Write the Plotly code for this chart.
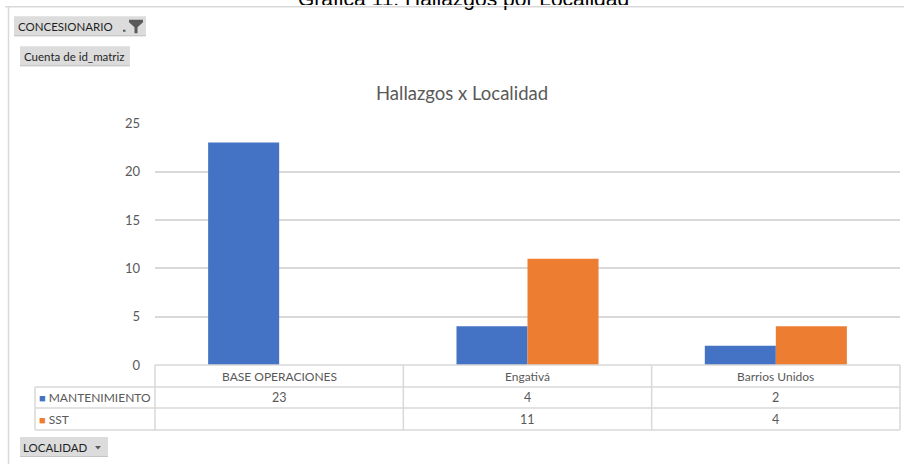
import plotly.graph_objects as go

W, H = 904, 464      # target picture size
HF = 472             # figure height (compensates the 8px top offset / vertical rescale seen in the photo)

categories = ["BASE OPERACIONES", "Engativá", "Barrios Unidos"]
series_names = ["MANTENIMIENTO", "SST"]
mantenimiento = [23, 4, 2]
sst = [None, 11, 4]
series_values = [mantenimiento, sst]
colors = ["#4472C4", "#ED7D31"]
y_ticks = [0, 5, 10, 15, 20, 25]

chart_title = "Hallazgos x Localidad"
page_title = "Gráfica 11. Hallazgos por Localidad"

FONT = "Lato"
GREY = "#595959"
LINE = "#d9d9d9"


def px(x):
    return x / W


def py(y):
    yc = y * (H + 16) / H - 8
    return 1 - yc / HF


fig = go.Figure()
for name, vals, col in zip(series_names, series_values, colors):
    fig.add_trace(go.Bar(x=categories, y=vals, name=name, marker=dict(color=col, line=dict(width=0)),
                         showlegend=False, hoverinfo="x+y+name"))

shapes = []
annotations = []

# outer frame lines
shapes.append(dict(type="line", xref="paper", yref="paper", x0=px(5), x1=px(904), y0=py(6.5), y1=py(6.5),
                   line=dict(color=LINE, width=1.5)))
shapes.append(dict(type="line", xref="paper", yref="paper", x0=px(8.5), x1=px(8.5), y0=py(6.5), y1=py(470),
                   line=dict(color=LINE, width=1.5)))

# data table lines
for yy, x0 in [(365, 155), (387, 35), (408, 35), (430, 35)]:
    shapes.append(dict(type="line", xref="paper", yref="paper", x0=px(x0), x1=px(900), y0=py(yy), y1=py(yy),
                       line=dict(color=LINE, width=1.5)))
shapes.append(dict(type="line", xref="paper", yref="paper", x0=px(35), x1=px(35), y0=py(387), y1=py(430),
                   line=dict(color=LINE, width=1.5)))
for xx in [155, 900]:
    shapes.append(dict(type="line", xref="paper", yref="paper", x0=px(xx), x1=px(xx), y0=py(365), y1=py(430),
                       line=dict(color=LINE, width=1.5)))
for i in range(len(categories) - 1):
    shapes.append(dict(type="line", xref="x", yref="paper", x0=i + 0.5, x1=i + 0.5, y0=py(365), y1=py(430),
                       line=dict(color=LINE, width=1.5)))

# table header + values
for i, cat in enumerate(categories):
    annotations.append(dict(x=i, y=py(376), xref="x", yref="paper", text=cat, showarrow=False,
                            font=dict(family=FONT, size=12, color=GREY), xanchor="center", yanchor="middle"))
for r, (name, vals, col) in enumerate(zip(series_names, series_values, colors)):
    yy = 397.5 + r * 21.5
    annotations.append(dict(x=px(37), y=py(yy), xref="paper", yref="paper",
                            text=f"<span style='color:{col};font-size:11px'>■</span> {name}", showarrow=False,
                            font=dict(family=FONT, size=12, color=GREY), xanchor="left", yanchor="middle"))
    for i, v in enumerate(vals):
        annotations.append(dict(x=i, y=py(yy), xref="x", yref="paper", text="" if v is None else str(v),
                                showarrow=False, font=dict(family=FONT, size=12.5, color=GREY),
                                xanchor="center", yanchor="middle"))

# titles
annotations.append(dict(x=px(462), y=py(93), xref="paper", yref="paper", text=chart_title, showarrow=False,
                        font=dict(family=FONT, size=18.5, color=GREY), xanchor="center", yanchor="middle"))
annotations.append(dict(x=px(463), y=py(-1.5), xref="paper", yref="paper", text=page_title, showarrow=False,
                        font=dict(family="Liberation Sans, Arial", size=21, color="#000000"),
                        xanchor="center", yanchor="middle"))
# white strip: the page title is cut just below its baseline in the reference
annotations.append(dict(x=px(463), y=py(5.0), xref="paper", yref="paper", text="&nbsp;", showarrow=False,
                        width=400, height=1, bgcolor="white", borderpad=0, borderwidth=0,
                        font=dict(size=1), xanchor="center", yanchor="middle"))

# pivot buttons
def button(x0, y0, x1, y1, text, tx):
    shapes.append(dict(type="rect", xref="paper", yref="paper", x0=px(x0), x1=px(x1), y0=py(y1), y1=py(y0),
                       fillcolor="#dcdcdc", line=dict(width=0), layer="below"))
    shapes.append(dict(type="line", xref="paper", yref="paper", x0=px(x0), x1=px(x1), y0=py(y1 - 0.5),
                       y1=py(y1 - 0.5), line=dict(color="#c4c4c4", width=1)))
    annotations.append(dict(x=px(tx), y=py((y0 + y1) / 2), xref="paper", yref="paper", text=text,
                            showarrow=False, font=dict(family=FONT, size=11.5, color="#1f1f1f"),
                            xanchor="left", yanchor="middle"))


button(14, 16, 146, 36, "CONCESIONARIO", 16)
button(20, 46, 130, 66, "Cuenta de id_matriz", 22)
button(20, 437, 108, 457, "LOCALIDAD", 21)

# funnel icon
def path(points):
    return "M " + " L ".join(f"{px(x)},{py(y)}" for x, y in points) + " Z"

shapes.append(dict(type="path", xref="paper", yref="paper",
                   path=path([(129, 19.5), (143, 19.5), (143, 22), (137.5, 27), (137.5, 33), (134.5, 33),
                              (134.5, 27), (129, 22)]),
                   fillcolor="#5a5a5a", line=dict(width=0)))
shapes.append(dict(type="rect", xref="paper", yref="paper", x0=px(123), x1=px(125.5), y0=py(31.5), y1=py(29.5),
                   fillcolor="#5a5a5a", line=dict(width=0)))
# dropdown arrow
shapes.append(dict(type="path", xref="paper", yref="paper",
                   path=path([(95, 446), (101, 446), (98, 449.5)]),
                   fillcolor="#5a5a5a", line=dict(width=0)))

fig.update_layout(
    width=W, height=HF,
    margin=dict(l=0, r=0, t=0, b=0),
    paper_bgcolor="white", plot_bgcolor="white",
    barmode="group", bargap=0.428, bargroupgap=0,
    xaxis=dict(domain=[px(155), px(900)], range=[-0.5, 2.5], showticklabels=False, showgrid=False,
               zeroline=False, showline=False, ticks=""),
    yaxis=dict(domain=[py(365), py(123)], range=[0, 25], tickvals=y_ticks, showgrid=True, gridcolor=LINE,
               gridwidth=1.5, zeroline=False, showline=False, ticks="", ticklabelstandoff=14,
               tickfont=dict(family=FONT, size=13, color=GREY)),
    shapes=shapes,
    annotations=annotations,
    font=dict(family=FONT),
)

css_js = (
    "var s=document.createElement('style');"
    "s.textContent='html,body{margin:0!important;padding:0!important;overflow:hidden;}';"
    "document.head.appendChild(s);"
)

fig.write_html("out.html", config={"displayModeBar": False}, post_script=css_js)
